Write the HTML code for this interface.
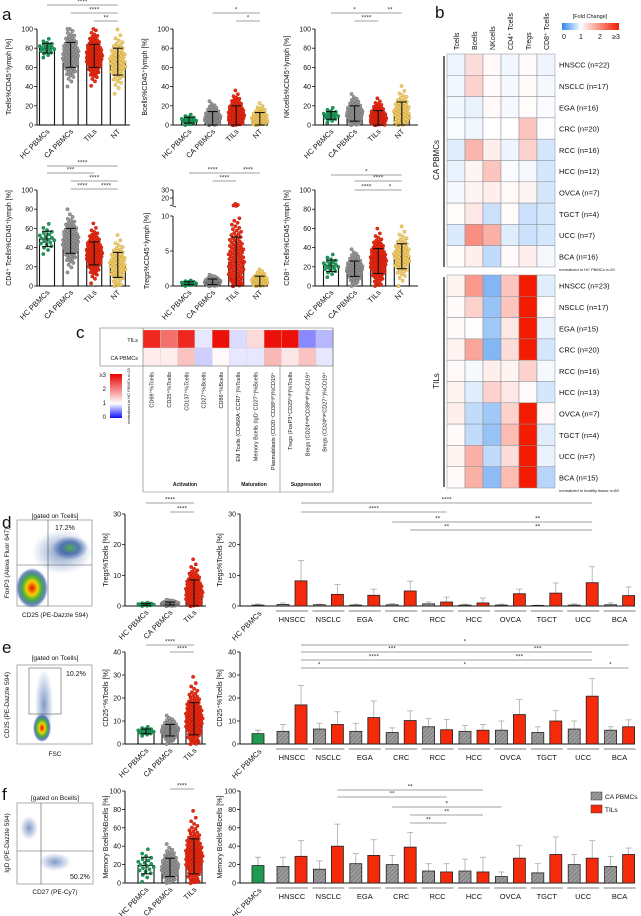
<!DOCTYPE html>
<html><head><meta charset="utf-8"><style>
html,body{margin:0;padding:0;background:#fff;}
svg{display:block;font-family:"Liberation Sans",sans-serif;}
</style></head><body>
<svg id="fig" width="641" height="916" viewBox="0 0 641 916" xmlns="http://www.w3.org/2000/svg">
<defs>
<pattern id="hatch" patternUnits="userSpaceOnUse" width="3" height="3" patternTransform="rotate(45)"><rect width="3" height="3" fill="#8a8a8a"/><line x1="0" y1="0" x2="0" y2="3" stroke="#bdbdbd" stroke-width="1"/></pattern>
<linearGradient id="gb" x1="0" x2="1" y1="0" y2="0"><stop offset="0" stop-color="#2f86ef"/><stop offset="0.33" stop-color="#ffffff"/><stop offset="1" stop-color="#f41c00"/></linearGradient>
<linearGradient id="gc" x1="0" x2="0" y1="1" y2="0"><stop offset="0" stop-color="#1010ff"/><stop offset="0.33" stop-color="#ffffff"/><stop offset="1" stop-color="#e80000"/></linearGradient>
<radialGradient id="hot"><stop offset="0" stop-color="#e01000"/><stop offset="0.35" stop-color="#f8d000"/><stop offset="0.6" stop-color="#40b040"/><stop offset="0.85" stop-color="#3050a0" stop-opacity="0.7"/><stop offset="1" stop-color="#3050a0" stop-opacity="0"/></radialGradient>
<radialGradient id="cool"><stop offset="0" stop-color="#50b050"/><stop offset="0.5" stop-color="#3a60a8" stop-opacity="0.8"/><stop offset="1" stop-color="#3a60a8" stop-opacity="0"/></radialGradient>
<radialGradient id="faint"><stop offset="0" stop-color="#4a70b0" stop-opacity="0.7"/><stop offset="1" stop-color="#4a70b0" stop-opacity="0"/></radialGradient>
</defs>
</svg>
<script>
// ---------- Panel a data ----------
const aCats=['HC PBMCs','CA PBMCs','TILs','NT'];
const aN=[20,90,110,60];
const tcellsMean=[80,73,72,66];
const tcellsSd=[5,13,12,14];
const bcellsMean=[5,7,10,6];
const bcellsSd=[3,7,10,7];
const nkMean=[10,12,7,12];
const nkSd=[4,8,8,12];
const cd4Mean=[49,47,34,22];
const cd4Sd=[8,13,12,13];
const tregMean=[0.4,0.6,3.4,0.7];
const tregSd=[0.2,0.4,3.6,0.7];
const cd8Mean=[21,18,26,31];
const cd8Sd=[6,8,13,13];
const ticks100=[0,20,40,60,80,100];
const tregTicks=[0,5,10,20,30];
// ---------- Panel b data (fold change) ----------
const bCols=['Tcells','Bcells','NKcells','CD4\u207A Tcells','Tregs','CD8\u207A Tcells'];
const bRowsCA=['HNSCC (n=22)','NSCLC (n=17)','EGA (n=16)','CRC (n=20)','RCC (n=16)','HCC (n=12)','OVCA (n=7)','TGCT (n=4)','UCC (n=7)','BCA (n=16)'];
const bRowsTIL=['HNSCC (n=23)','NSCLC (n=17)','EGA (n=15)','CRC (n=20)','RCC (n=16)','HCC (n=13)','OVCA (n=7)','TGCT (n=4)','UCC (n=7)','BCA (n=15)'];
const bValsCA=[[0.92,1.3,1.05,0.93,1.05,0.92],[0.93,1.4,1.05,0.95,1.05,0.95],[0.93,0.9,1.05,0.95,1.02,0.97],[0.97,0.93,1.0,1.0,1.5,0.98],[0.85,1.65,1.15,0.92,1.4,0.8],[0.9,1.1,1.5,0.97,0.95,0.8],[0.95,1.1,1.15,1.05,1.1,0.8],[1.02,1.2,0.75,1.03,0.75,0.8],[0.82,2.0,1.7,0.85,0.75,0.8],[1.02,1.15,0.7,1.05,1.15,0.95]];
const bValsTIL=[[1.1,1.9,0.4,1.5,3,0.85],[1.05,1.4,0.5,1.5,3,1.02],[1.05,1.02,0.55,1.2,3,0.9],[1.1,1.8,0.4,1.3,3,0.8],[1.05,0.95,1.15,1.1,1.4,0.95],[1.1,0.85,1.4,1.2,1.05,0.8],[1.15,0.7,0.55,1.4,3,1.05],[1.05,0.7,0.5,1.6,3,0.85],[1.1,1.7,0.7,1.3,3,0.9],[1.05,1.7,0.45,1.6,3,0.65]];
// ---------- Panel c data ----------
const cCols=['CD69\u207A%Tcells','CD25\u207A%Tcells','CD137\u207A%Tcells','CD27\u207A%Bcells','CD86\u207A%Bcells','EM Tcells (CD45RA\u207BCCR7\u207B)%Tcells','Memory Bcells (IgD\u207BCD27\u207A)%Bcells','Plasmablasts (CD20\u207BCD38\u02B0\u2071\u1D4D\u02B0)%CD19\u207A','Tregs (FoxP3\u207ACD25\u02B0\u2071\u1D4D\u02B0)%Tcells','Bregs (CD24\u02B0\u2071\u1D4D\u02B0CD38\u02B0\u2071\u1D4D\u02B0)%CD19\u207A','Bregs (CD24\u02B0\u2071\u1D4D\u02B0CD27\u207A)%CD19\u207A'];
const cValsTIL=[2.8,2.2,2.8,0.9,3,0.85,1.3,3,3,0.5,0.7];
const cValsCA=[1.15,1.15,1.5,0.8,1.05,0.9,0.9,1.6,1.2,1.5,0.9];
// ---------- Panels d-f data ----------
const tumorCats=['HNSCC','NSCLC','EGA','CRC','RCC','HCC','OVCA','TGCT','UCC','BCA'];
const midCats=['HC PBMCs','CA PBMCs','TILs'];
const midN=[20,90,110];
const dMidMean=[0.5,0.8,4.3];
const dMidSd=[0.3,0.5,4.2];
const dHC=[0.3], dHCErr=[0.3];
const dCA=[0.5,0.4,0.3,0.4,0.7,0.3,0.3,0.2,0.3,0.4];
const dCAErr=[0.5,0.2,0.3,0.4,0.6,0.3,0.3,0.1,0.4,0.6];
const dTIL=[8.2,3.8,3.5,4.9,1.3,1.0,4.0,4.2,7.6,3.4];
const dTILErr=[6.6,3.2,2.0,3.2,1.6,1.6,1.5,3.3,5.2,2.8];
const eMidMean=[5.5,6,11];
const eMidSd=[1,2.5,7];
const eHC=[4.5], eHCErr=[1.5];
const eCA=[5.5,6.5,5.5,5,7.5,5.5,6,5,6.5,6];
const eCAErr=[3,2.5,3.5,2,3.5,2.5,4,2.5,3.5,1.5];
const eTIL=[17,8.5,11.5,10.2,6.2,6,12.8,10,20.8,7.5];
const eTILErr=[8.5,5.5,7.2,4.2,4.5,2.5,6.5,4.5,7.6,3];
const fMidMean=[19,17,29];
const fMidSd=[9,10,19];
const fHC=[19], fHCErr=[9];
const fCA=[18,15,21,20,13,13,7,11,20,18];
const fCAErr=[10,9,11,10,8,13,5,10,11,11];
const fTIL=[29,40,30,39,12,12,27,31,27,31];
const fTILErr=[17,24,17,16,9,16,14,19,19,7];

const NS='http://www.w3.org/2000/svg';
const svg=document.getElementById('fig');
function el(tag,attrs,name,parent){
  const e=document.createElementNS(NS,tag);
  for(const k in attrs) e.setAttribute(k,attrs[k]);
  
  
  (parent||svg).appendChild(e);
  return e;
}
function tx(x,y,s,size,name,extra){
  const a=Object.assign({x:x,y:y,'font-size':size,fill:'#111'},extra||{});
  const t=el('text',a,name);
  t.textContent=s;
  return t;
}
function line(x1,y1,x2,y2,name,w,c){return el('line',{x1:x1,y1:y1,x2:x2,y2:y2,stroke:c||'#111','stroke-width':w||0.8},name);}
function zq(p){return 4.91*(Math.pow(p,0.14)-Math.pow(1-p,0.14));}
const dotFill=['#1b9a5a','#9a9a9a','#ee2a12','#f2cd6a'];
const dotStroke=['#0d6a38','#555','#9a1404','#b8902a'];

function bracket(x1,x2,y,label,name){
  line(x1,y,x2,y,name,0.6,'#444');
  tx((x1+x2)/2,y-1.5,label,6.5,name+'-label',{'text-anchor':'middle',fill:'#333'});
}

function scatterPanel(cfg){
  const sc=cfg.scale;
  const xs=cfg.means.map((m,i)=>cfg.ax+cfg.off+i*cfg.step);
  line(cfg.ax,cfg.yTop,cfg.ax,cfg.yBot,cfg.id+'-y-axis',1);
  line(cfg.ax,cfg.yBot,cfg.xEnd,cfg.yBot,cfg.id+'-x-axis',1);
  cfg.ticks.forEach(t=>{
    line(cfg.ax-3,sc(t),cfg.ax,sc(t),cfg.id+'-tick',0.8);
    tx(cfg.ax-4,sc(t)+2.5,String(t),7,cfg.id+'-tick-label',{'text-anchor':'end'});
  });
  cfg.means.forEach((m,i)=>{
    const x=xs[i];
    el('rect',{x:x-cfg.bw/2,y:sc(m),width:cfg.bw,height:cfg.yBot-sc(m),fill:'#fff',stroke:'#111','stroke-width':1.1},cfg.id+'-bar-'+i);
    const n=cfg.ns[i];
    for(let k=0;k<n;k++){
      const p=(k+0.5)/n;
      const z=zq(p);
      let v=m+cfg.sds[i]*z;
      if(v<cfg.min) v=cfg.min+(k%5)*0.01*cfg.max;
      if(v>cfg.max) v=cfg.max;
      const dens=Math.exp(-z*z/2);
      const jx=(((k*0.618034)%1)-0.5)*cfg.bw*1.1*(0.35+0.65*dens);
      el('circle',{cx:x+jx,cy:sc(v),r:1.7,fill:dotFill[cfg.colorIdx[i]],stroke:dotStroke[cfg.colorIdx[i]],'stroke-width':0.35},cfg.id+'-dot');
    }
    const hi=sc(m+cfg.sds[i]), lo=sc(Math.max(cfg.min,m-cfg.sds[i]));
    line(x,hi,x,lo,cfg.id+'-errorbar',1.1);
    line(x-5,hi,x+5,hi,cfg.id+'-errorcap',1.1);
    line(x-5,lo,x+5,lo,cfg.id+'-errorcap',1.1);
    tx(x+3,cfg.yBot+7,cfg.cats[i],7.5,cfg.id+'-category-label',{'text-anchor':'end',transform:'rotate(-45 '+(x+3)+' '+(cfg.yBot+7)+')'});
  });
  const yc=(cfg.yTop+cfg.yBot)/2;
  tx(cfg.ax-cfg.ylOff,yc,cfg.ylabel,7,cfg.id+'-y-axis-title',{'text-anchor':'middle',transform:'rotate(-90 '+(cfg.ax-cfg.ylOff)+' '+yc+')'});
  (cfg.brackets||[]).forEach(b=>bracket(xs[b[0]],xs[b[1]],b[2],b[3],cfg.id+'-significance'));
}
function lin(max,yTop,yBot){return v=>yBot-(v/max)*(yBot-yTop);}

// ---------- Panel a ----------
tx(2,20,'a',17,'panel-label-a');
const rowsA=[
 {id:'tcells',ax:37,off:10,xEnd:130,yTop:29,yBot:125,means:tcellsMean,sds:tcellsSd,ylabel:'Tcells%CD45\u207Alymph [%]',br:[[0,3,5,'****'],[1,3,13,'****'],[2,3,21,'**']]},
 {id:'bcells',ax:173,off:16,xEnd:267,yTop:29,yBot:125,means:bcellsMean,sds:bcellsSd,ylabel:'Bcells%CD45\u207Alymph [%]',br:[[1,3,13,'*'],[2,3,21,'*']]},
 {id:'nkcells',ax:315,off:16,xEnd:418,yTop:29,yBot:125,means:nkMean,sds:nkSd,ylabel:'NKcells%CD45\u207Alymph [%]',br:[[0,2,13,'*'],[2,3,13,'**'],[1,2,21,'****']]},
 {id:'cd4',ax:37,off:10,xEnd:130,yTop:190,yBot:286,means:cd4Mean,sds:cd4Sd,ylabel:'CD4\u207A Tcells%CD45\u207Alymph [%]',br:[[0,3,166,'****'],[0,2,173,'***'],[1,3,181,'****'],[1,2,189,'****'],[2,3,189,'****']]},
 {id:'cd8',ax:315,off:16,xEnd:418,yTop:190,yBot:286,means:cd8Mean,sds:cd8Sd,ylabel:'CD8\u207A Tcells%CD45\u207Alymph [%]',br:[[0,3,175,'*'],[1,3,181,'****'],[1,2,190,'****'],[2,3,190,'*']]}
];
rowsA.forEach(r=>scatterPanel({id:r.id,ax:r.ax,off:r.off,step:23.6,bw:15,xEnd:r.xEnd,yTop:r.yTop,yBot:r.yBot,min:0,max:100,scale:lin(100,r.yTop,r.yBot),ticks:ticks100,means:r.means,sds:r.sds,ns:aN,cats:aCats,colorIdx:[0,1,2,3],ylabel:r.ylabel,ylOff:26,brackets:r.br}));
// Tregs with broken axis
function tregScale(v){ if(v<=10) return 286-v/10*(286-216); return 198-(v-20)*0.8; }
scatterPanel({id:'tregs',ax:173,off:16,step:23.6,bw:15,xEnd:267,yTop:216,yBot:286,min:0,max:30,scale:tregScale,ticks:tregTicks,means:tregMean,sds:tregSd,ns:aN,cats:aCats,colorIdx:[0,1,2,3],ylabel:'Tregs%CD45\u207Alymph [%]',ylOff:24,brackets:[[0,2,173,'****'],[2,3,173,'****'],[1,2,181,'****']]});
line(173,190,173,205,'tregs-y-axis-upper',1);
line(170,205,176,207,'tregs-axis-break',0.8);

// ---------- Panel b ----------
tx(435,18,'b',17,'panel-label-b');
function bColor(v){
  v=Math.max(0,Math.min(3,v));
  let r,g,b;
  if(v<1){const t=v; r=47+(255-47)*t; g=134+(255-134)*t; b=239+(255-239)*t;}
  else {const t=(v-1)/2; r=255-(255-244)*t; g=255-(255-28)*t; b=255-255*t;}
  return 'rgb('+Math.round(r)+','+Math.round(g)+','+Math.round(b)+')';
}
const bx0=447,bcw=18,bch=21.3;
bCols.forEach((c,j)=>{const x=bx0+j*bcw+bcw/2+3; tx(x,50,c,7,'heatmap-b-column-label',{transform:'rotate(-90 '+x+' 50)'});});
function bBlock(vals,rows,y0,name){
  vals.forEach((row,i)=>{
    row.forEach((v,j)=>{
      el('rect',{x:bx0+j*bcw,y:y0+i*bch,width:bcw,height:bch,fill:bColor(v),stroke:'#8a8f96','stroke-width':0.5},name+'-cell');
    });
    tx(bx0+6*bcw+4,y0+i*bch+bch/2+3,rows[i],7.5,name+'-row-label');
  });
}
bBlock(bValsCA,bRowsCA,54,'heatmap-b-ca');
bBlock(bValsTIL,bRowsTIL,275,'heatmap-b-til');
tx(559,271,'normalized to HC PBMCs n=20',4,'heatmap-b-note');
tx(559,492,'normalized to healthy tissue n=89',4,'heatmap-b-note');
line(444,56,444,267,'heatmap-b-group-bracket',1.2);
line(444,277,444,487,'heatmap-b-group-bracket',1.2);
tx(439,160,'CA PBMCs',8,'heatmap-b-group-label',{'text-anchor':'middle',transform:'rotate(-90 439 160)'});
tx(439,381,'TILs',8,'heatmap-b-group-label',{'text-anchor':'middle',transform:'rotate(-90 439 381)'});
el('rect',{x:562,y:23,width:57,height:7,fill:'url(#gb)'},'fold-change-colorbar');
tx(590,18,'[Fold Change]',5.5,'fold-change-title',{'text-anchor':'middle'});
[['0',564],['1',581],['2',600],['\u22653',616]].forEach(a=>tx(a[1],39,a[0],7,'fold-change-tick',{'text-anchor':'middle'}));

// ---------- Panel c ----------
tx(76,338,'c',17,'panel-label-c');
const cx0=143,ccw=17.3;
function cColor(v){
  v=Math.max(0,Math.min(3,v));
  let r,g,b;
  if(v<1){const t=v; r=16+(255-16)*t; g=16+(255-16)*t; b=255;}
  else {const t=(v-1)/2; r=255-(255-236)*t; g=255-(255-16)*t; b=255-(255-8)*t;}
  return 'rgb('+Math.round(r)+','+Math.round(g)+','+Math.round(b)+')';
}
[[cValsTIL,330,'TILs'],[cValsCA,348,'CA PBMCs']].forEach(rw=>{
  rw[0].forEach((v,j)=>el('rect',{x:cx0+j*ccw,y:rw[1],width:ccw,height:18,fill:cColor(v),stroke:'#ccc','stroke-width':0.3},'heatmap-c-cell'));
  tx(138,rw[1]+12,rw[2],5.5,'heatmap-c-row-label',{'text-anchor':'end'});
});
el('rect',{x:100,y:328,width:233,height:38,fill:'none',stroke:'#777','stroke-width':0.6},'heatmap-c-frame');
line(143,328,143,492,'heatmap-c-divider',0.6,'#777');
line(228,366,228,492,'heatmap-c-divider',0.6,'#777');
line(280,366,280,492,'heatmap-c-divider',0.6,'#777');
line(333,328,333,492,'heatmap-c-divider',0.6,'#777');
line(143,492,333,492,'heatmap-c-divider',0.6,'#777');
cCols.forEach((c,j)=>{const x=cx0+j*ccw+ccw/2+2; tx(x,372,c,5.5,'heatmap-c-column-label',{'text-anchor':'end',transform:'rotate(-90 '+x+' 372)'});});
tx(185,486,'Activation',5,'heatmap-c-group-label',{'text-anchor':'middle','font-weight':'bold'});
tx(254,486,'Maturation',5,'heatmap-c-group-label',{'text-anchor':'middle','font-weight':'bold'});
tx(306,486,'Suppression',5,'heatmap-c-group-label',{'text-anchor':'middle','font-weight':'bold'});
el('rect',{x:110,y:374,width:12,height:44,fill:'url(#gc)'},'heatmap-c-colorbar');
[['\u22653',377],['2',391],['1',405],['0',419]].forEach(a=>tx(106,a[1],a[0],6,'heatmap-c-colorbar-tick',{'text-anchor':'end'}));
tx(130,396,'normalized to HC PBMCs n=20',4,'heatmap-c-note',{'text-anchor':'middle',transform:'rotate(-90 130 396)'});

// ---------- Flow plots ----------
function flowBox(x,y,w,h,name){el('rect',{x:x,y:y,width:w,height:h,fill:'#fff',stroke:'#777','stroke-width':0.6},name);}
tx(2,528,'d',17,'panel-label-d');
flowBox(17,520,75,86,'flow-plot-d');
el('ellipse',{cx:62,cy:552,rx:30,ry:22,fill:'url(#faint)'},'flow-d-cloud');
el('ellipse',{cx:70,cy:548,rx:18,ry:12,fill:'url(#cool)'},'flow-d-cluster');
el('ellipse',{cx:32,cy:588,rx:16,ry:20,fill:'url(#hot)'},'flow-d-cluster');
line(48,520,48,606,'flow-d-gate',0.6,'#555');
line(17,565,92,565,'flow-d-gate',0.6,'#555');
tx(55,518,'[gated on Tcells]',6.5,'flow-d-gate-label',{'text-anchor':'middle'});
tx(55,530,'17.2%',7,'flow-d-percent');
tx(55,617,'CD25 (PE-Dazzle 594)',6.5,'flow-d-x-label',{'text-anchor':'middle'});
tx(9,563,'FoxP3 (Alexa Fluor 647)',6.5,'flow-d-y-label',{'text-anchor':'middle',transform:'rotate(-90 9 563)'});
tx(2,653,'e',17,'panel-label-e');
tx(55,660,'[gated on Tcells]',6.5,'flow-e-gate-label',{'text-anchor':'middle'});
flowBox(17,665,75,79,'flow-plot-e');
el('ellipse',{cx:44,cy:705,rx:9,ry:36,fill:'url(#faint)'},'flow-e-cloud');
el('ellipse',{cx:42,cy:728,rx:9,ry:14,fill:'url(#hot)'},'flow-e-cluster');
el('rect',{x:29,y:668,width:32,height:46,fill:'none',stroke:'#555','stroke-width':0.6},'flow-e-gate');
tx(66,676,'10.2%',7,'flow-e-percent');
tx(55,756,'FSC',6.5,'flow-e-x-label',{'text-anchor':'middle'});
tx(9,705,'CD25 (PE-Dazzle 594)',6.5,'flow-e-y-label',{'text-anchor':'middle',transform:'rotate(-90 9 705)'});
tx(2,800,'f',17,'panel-label-f');
tx(55,800,'[gated on Bcells]',6.5,'flow-f-gate-label',{'text-anchor':'middle'});
flowBox(17,803,76,81,'flow-plot-f');
el('ellipse',{cx:29,cy:828,rx:9,ry:12,fill:'url(#faint)'},'flow-f-cluster');
el('ellipse',{cx:55,cy:862,rx:16,ry:9,fill:'url(#faint)'},'flow-f-cluster');
line(41,803,41,884,'flow-f-gate',0.6,'#555');
line(17,851,93,851,'flow-f-gate',0.6,'#555');
tx(70,879,'50.2%',7,'flow-f-percent');
tx(55,894,'CD27 (PE-Cy7)',6.5,'flow-f-x-label',{'text-anchor':'middle'});
tx(9,843,'IgD (PE-Dazzle 594)',6.5,'flow-f-y-label',{'text-anchor':'middle',transform:'rotate(-90 9 843)'});

// ---------- middle scatter panels ----------
const midCfg=[
 {id:'d-mid',yTop:514,yBot:606,max:30,ticks:[0,10,20,30],means:dMidMean,sds:dMidSd,yl:'Tregs%Tcells [%]',br:[[0,2,503,'****'],[1,2,512,'****']]},
 {id:'e-mid',yTop:652,yBot:744,max:40,ticks:[0,10,20,30,40],means:eMidMean,sds:eMidSd,yl:'CD25\u207A%Tcells [%]',br:[[0,2,645,'****'],[1,2,652,'****']]},
 {id:'f-mid',yTop:791,yBot:883,max:100,ticks:[0,20,40,60,80,100],means:fMidMean,sds:fMidSd,yl:'Memory Bcells%Bcells [%]',br:[[1,2,789,'****']]}
];
midCfg.forEach(m=>scatterPanel({id:m.id,ax:125,off:21,step:24,bw:16,xEnd:206,yTop:m.yTop,yBot:m.yBot,min:0,max:m.max,scale:lin(m.max,m.yTop,m.yBot),ticks:m.ticks,means:m.means,sds:m.sds,ns:midN,cats:midCats,colorIdx:[0,1,2],ylabel:m.yl,ylOff:17,brackets:m.br}));

// ---------- right grouped bar charts ----------
function gPos(i,s){return 292+i*36.4+(s===0?-9:9);}
function barChart(cfg){
  const sc=lin(cfg.max,cfg.yTop,cfg.yBot), ax=240;
  line(ax,cfg.yTop,ax,cfg.yBot,cfg.id+'-y-axis',1);
  line(ax,cfg.yBot,635,cfg.yBot,cfg.id+'-x-axis',1);
  cfg.ticks.forEach(t=>{line(ax-3,sc(t),ax,sc(t),cfg.id+'-tick',0.8); tx(ax-4,sc(t)+2.5,String(t),7,cfg.id+'-tick-label',{'text-anchor':'end'});});
  const yc=(cfg.yTop+cfg.yBot)/2;
  tx(ax-18,yc,cfg.yl,7,cfg.id+'-y-axis-title',{'text-anchor':'middle',transform:'rotate(-90 '+(ax-18)+' '+yc+')'});
  function bar(x,v,e,fill,name,ec){
    line(x,sc(v),x,sc(v+e),name+'-error',0.8,ec);
    line(x-3,sc(v+e),x+3,sc(v+e),name+'-error-cap',0.8,ec);
    el('rect',{x:x-6,y:sc(v),width:12,height:cfg.yBot-sc(v),fill:fill,stroke:'#222','stroke-width':0.8},name);
  }
  bar(258,cfg.hc[0],cfg.hcErr[0],'#1f9a50',cfg.id+'-bar-hc','#999');
  tx(262,cfg.yBot+8,'HC PBMCs',7.5,cfg.id+'-category-label',{'text-anchor':'end',transform:'rotate(-45 262 '+(cfg.yBot+8)+')'});
  tumorCats.forEach((c,i)=>{
    bar(gPos(i,0),cfg.ca[i],cfg.caErr[i],'url(#hatch)',cfg.id+'-bar-ca-'+c,'#aaa');
    bar(gPos(i,1),cfg.til[i],cfg.tilErr[i],'#f42a0a',cfg.id+'-bar-til-'+c,'#aaa');
    const gc=292+i*36.4;
    line(gc-16,cfg.yBot+5,gc+16,cfg.yBot+5,cfg.id+'-group-underline',1.2,'#999');
    tx(gc,cfg.yBot+16,c,7.5,cfg.id+'-category-label',{'text-anchor':'middle'});
  });
  cfg.br.forEach(b=>bracket(gPos(b[0],b[1]),gPos(b[2],b[3]),b[4],b[5],cfg.id+'-significance'));
}
barChart({id:'d-right',yTop:514,yBot:606,max:30,ticks:[0,10,20,30],hc:dHC,hcErr:dHCErr,ca:dCA,caErr:dCAErr,til:dTIL,tilErr:dTILErr,yl:'Tregs%Tcells [%]',
 br:[[0,1,8,1,503,'****'],[0,1,4,1,512,'****'],[3,0,5,1,522,'**'],[5,1,8,1,522,'**'],[3,1,5,1,530,'**'],[5,1,8,1,530,'**']]});
barChart({id:'e-right',yTop:652,yBot:744,max:40,ticks:[0,10,20,30,40],hc:eHC,hcErr:eHCErr,ca:eCA,caErr:eCAErr,til:eTIL,tilErr:eTILErr,yl:'CD25\u207A%Tcells [%]',
 br:[[0,1,9,1,645,'*'],[0,1,5,1,652,'***'],[5,1,8,1,652,'***'],[0,1,4,1,660,'****'],[4,1,8,1,660,'***'],[0,1,1,1,668,'*'],[1,1,8,1,668,'*'],[8,1,9,1,668,'*']]});
barChart({id:'f-right',yTop:791,yBot:883,max:100,ticks:[0,20,40,60,80,100],hc:fHC,hcErr:fHCErr,ca:fCA,caErr:fCAErr,til:fTIL,tilErr:fTILErr,yl:'Memory Bcells%Bcells [%]',
 br:[[1,1,5,1,790,'**'],[1,1,4,1,797,'**'],[3,0,6,0,807,'*'],[3,1,5,1,815,'**'],[3,1,4,1,823,'**']]});
el('rect',{x:591,y:792,width:11,height:8,fill:'url(#hatch)',stroke:'#333','stroke-width':0.5},'legend-ca-swatch');
tx(605,799,'CA PBMCs',6.5,'legend-ca-label');
el('rect',{x:591,y:805,width:11,height:8,fill:'#f42a0a',stroke:'#333','stroke-width':0.5},'legend-til-swatch');
tx(605,812,'TILs',6.5,'legend-til-label');
</script>
</body></html>
